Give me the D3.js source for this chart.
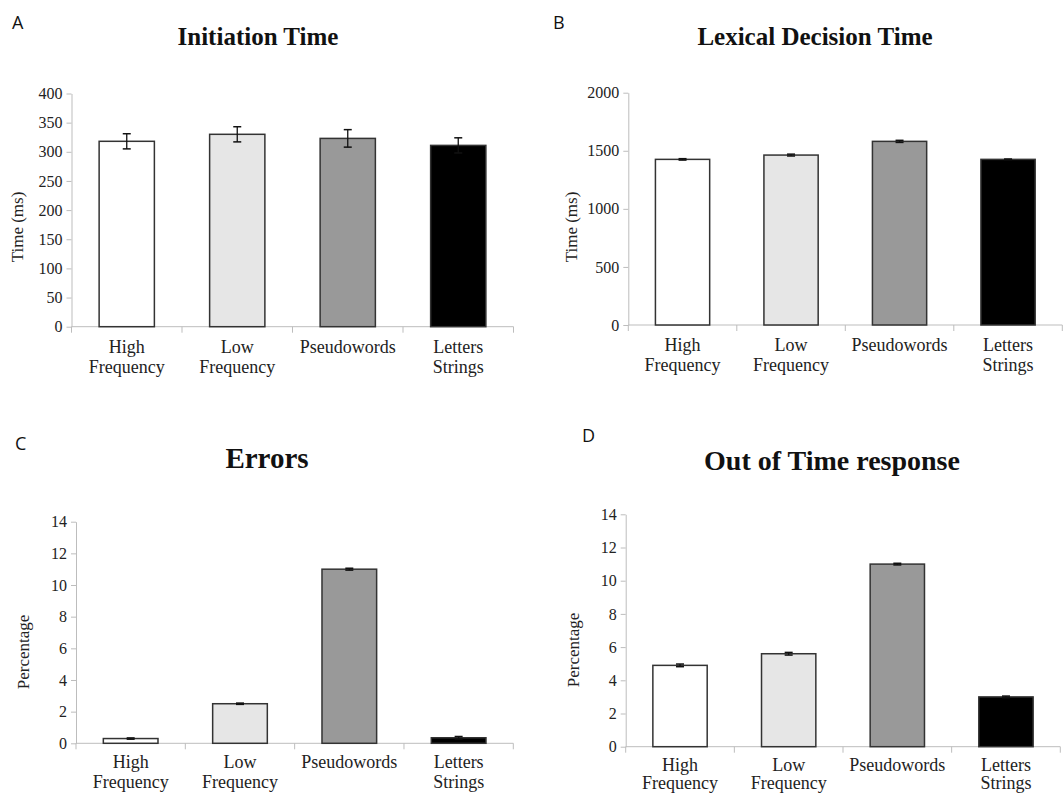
<!DOCTYPE html>
<html>
<head>
<meta charset="utf-8">
<script src="https://cdn.jsdelivr.net/npm/d3@7"></script>
<style>
  body { margin: 0; background: #fff; }
  svg { display: block; }
  .cat, .ylab { font-family: "Liberation Serif", "Times New Roman", serif; fill: #222; }
  .title { font-family: "Liberation Serif", "Times New Roman", serif; font-weight: bold; fill: #111; }
  .letter { font-family: "Open Sans", "Liberation Sans", sans-serif; fill: #111; }
</style>
</head>
<body>
<script>
// categories and values
var categories = ["High Frequency", "Low Frequency", "Pseudowords", "Letters Strings"];
var catLines = [["High", "Frequency"], ["Low", "Frequency"], ["Pseudowords"], ["Letters", "Strings"]];
var barFills = ["#ffffff", "#e6e6e6", "#999999", "#000000"];

var initiationTime = [318, 330, 323, 311];
var initiationErr = [13, 13, 15, 13];
var lexicalTime = [1426, 1463, 1581, 1426];
var lexicalErr = [6, 8, 9, 3];
var errorsPct = [0.3, 2.5, 11.0, 0.35];
var errorsErr = [0.04, 0.04, 0.06, 0.08];
var outOfTimePct = [4.9, 5.6, 11.0, 3.0];
var outOfTimeErr = [0.08, 0.08, 0.05, 0.05];

var svg = d3.select("body").append("svg")
  .attr("width", 1063)
  .attr("height", 795);

var drawPanel = function(p){
  var g = svg.append("g");

  var x = d3.scaleBand()
    .domain(categories)
    .range([p.left, p.right])
    .paddingInner(0.5)
    .paddingOuter(0.25);

  var y = d3.scaleLinear()
    .domain([0, p.max])
    .range([p.bottom, p.top]);

  // y axis
  var yAxis = g.append("g")
    .attr("transform", "translate(" + p.left + ",0)")
    .call(d3.axisLeft(y)
      .tickValues(d3.range(0, p.max + p.step / 2, p.step))
      .tickFormat(d3.format("d"))
      .tickSize(5).tickPadding(4).tickSizeOuter(0));
  yAxis.attr("font-family", "'Liberation Serif', 'Times New Roman', serif").attr("font-size", 16);
  yAxis.selectAll(".domain, .tick line").attr("stroke", "#bdbdbd");
  yAxis.selectAll(".tick text").attr("fill", "#222");

  // x axis line with ticks between categories
  var step = x.step();
  g.append("line")
    .attr("x1", p.left).attr("x2", p.right)
    .attr("y1", p.bottom).attr("y2", p.bottom)
    .attr("stroke", "#bdbdbd");
  g.selectAll(".xtick").data(d3.range(0, categories.length + 1))
    .enter().append("line")
    .attr("x1", function(i){ return p.left + i * step; })
    .attr("x2", function(i){ return p.left + i * step; })
    .attr("y1", p.bottom).attr("y2", p.bottom + 6)
    .attr("stroke", "#bdbdbd");

  // bars
  g.selectAll(".bar").data(p.values)
    .enter().append("rect")
    .attr("x", function(d, i){ return x(categories[i]); })
    .attr("y", function(d){ return y(d); })
    .attr("width", x.bandwidth())
    .attr("height", function(d){ return p.bottom - y(d); })
    .attr("fill", function(d, i){ return barFills[i]; })
    .attr("stroke", "#333")
    .attr("stroke-width", 1.5);

  // error bars
  var eb = g.selectAll(".err").data(p.values)
    .enter().append("g")
    .attr("transform", function(d, i){ return "translate(" + (x(categories[i]) + x.bandwidth() / 2) + ",0)"; });
  eb.append("line")
    .attr("y1", function(d, i){ return y(d + p.errs[i]); })
    .attr("y2", function(d, i){ return y(d - p.errs[i]); })
    .attr("stroke", "#111").attr("stroke-width", 1.3);
  eb.append("line")
    .attr("x1", -4).attr("x2", 4)
    .attr("y1", function(d, i){ return y(d + p.errs[i]); })
    .attr("y2", function(d, i){ return y(d + p.errs[i]); })
    .attr("stroke", "#111").attr("stroke-width", 1.5);
  eb.append("line")
    .attr("x1", -4).attr("x2", 4)
    .attr("y1", function(d, i){ return y(d - p.errs[i]); })
    .attr("y2", function(d, i){ return y(d - p.errs[i]); })
    .attr("stroke", "#111").attr("stroke-width", 1.5);

  // category labels
  var cat = g.selectAll(".cat").data(catLines)
    .enter().append("text")
    .attr("class", "cat")
    .attr("text-anchor", "middle")
    .style("font-size", "18px")
    .attr("transform", function(d, i){ return "translate(" + (x(categories[i]) + x.bandwidth() / 2) + "," + (p.bottom + p.catOffset) + ")"; });
  cat.selectAll("tspan").data(function(d){ return d; })
    .enter().append("tspan")
    .attr("x", 0)
    .attr("y", function(d, j){ return j * p.catGap; })
    .text(function(d){ return d; });

  // y label
  g.append("text")
    .attr("class", "ylab")
    .attr("text-anchor", "middle")
    .style("font-size", "17px")
    .attr("transform", "translate(" + p.ylabX + "," + p.ylabY + ") rotate(-90)")
    .text(p.ylabel);

  // title and panel letter
  g.append("text")
    .attr("class", "title")
    .attr("text-anchor", "middle")
    .attr("x", p.titleX).attr("y", p.titleY)
    .style("font-size", p.titleSize + "px")
    .text(p.title);
  g.append("text")
    .attr("class", "letter")
    .attr("x", p.letterX).attr("y", p.letterY)
    .style("font-size", "18px")
    .text(p.letter);
};

drawPanel({ values: initiationTime, errs: initiationErr, max: 400, step: 50,
  left: 71.5, right: 513.5, top: 93.5, bottom: 326.7, catOffset: 26, catGap: 20,
  ylabel: "Time (ms)", ylabX: 23, ylabY: 227,
  title: "Initiation Time", titleX: 258, titleY: 45, titleSize: 25,
  letter: "A", letterX: 12, letterY: 29 });

drawPanel({ values: lexicalTime, errs: lexicalErr, max: 2000, step: 500,
  left: 628.3, right: 1062.3, top: 92.7, bottom: 325, catOffset: 26, catGap: 20,
  ylabel: "Time (ms)", ylabX: 577, ylabY: 227,
  title: "Lexical Decision Time", titleX: 815, titleY: 45, titleSize: 25,
  letter: "B", letterX: 553, letterY: 29 });

drawPanel({ values: errorsPct, errs: errorsErr, max: 14, step: 2,
  left: 76, right: 513.3, top: 521.7, bottom: 743.3, catOffset: 25, catGap: 20,
  ylabel: "Percentage", ylabX: 29, ylabY: 652,
  title: "Errors", titleX: 267, titleY: 468, titleSize: 29,
  letter: "C", letterX: 15, letterY: 450 });

drawPanel({ values: outOfTimePct, errs: outOfTimeErr, max: 14, step: 2,
  left: 625.7, right: 1060.3, top: 514.3, bottom: 746.7, catOffset: 24, catGap: 18,
  ylabel: "Percentage", ylabX: 579, ylabY: 650,
  title: "Out of Time response", titleX: 832, titleY: 470, titleSize: 28,
  letter: "D", letterX: 582, letterY: 442 });
</script>
</body>
</html>
